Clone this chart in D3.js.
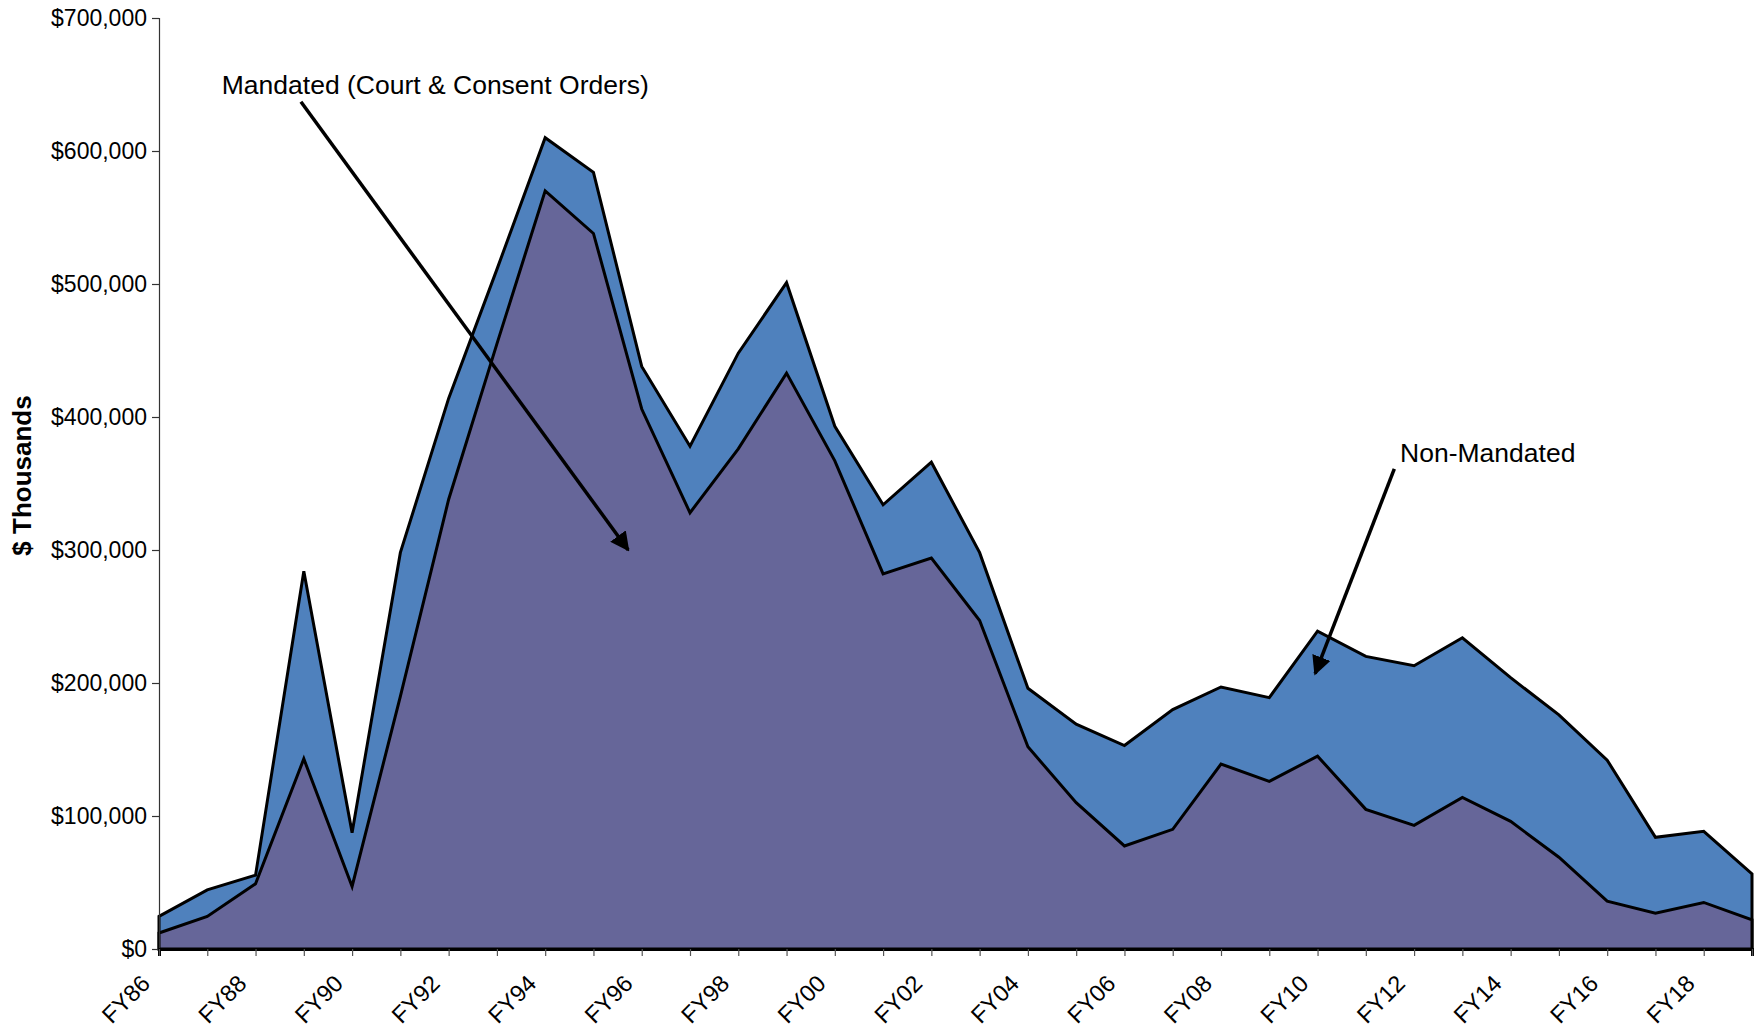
<!DOCTYPE html>
<html>
<head>
<meta charset="utf-8">
<script src="https://cdn.jsdelivr.net/npm/d3@7"></script>
<style>
  body { margin: 0; background: #fff; }
  text { font-family: "Liberation Sans", Arial, sans-serif; }
</style>
</head>
<body>
<svg id="chart" width="1759" height="1028"></svg>
<script>
// fiscal years FY86 .. FY19
const years = d3.range(1986, 2020);

// $ thousands
const mandated = [
  12000, 24500, 49000, 143000, 47000, 190000, 338000, 455000, 570000, 538000,
  406000, 328000, 376000, 433000, 367000, 282000, 294000, 247000, 152000, 110000,
  77500, 90000, 139000, 126000, 145000, 105000, 93000, 114000, 96000, 69000,
  36000, 27000, 35000, 22000
];
const total = [
  24500, 44500, 55500, 284000, 87500, 298000, 414000, 511000, 610000, 584000,
  438000, 378000, 448000, 501000, 393000, 334000, 366000, 298000, 196000, 169000,
  153000, 180000, 197000, 189000, 239000, 220000, 213000, 234000, 204000, 176000,
  142000, 84000, 88500, 56500
];
const nonMandated = total.map((t, i) => t - mandated[i]);

const yTicks = [0, 100000, 200000, 300000, 400000, 500000, 600000, 700000];

// annotations in data units: [year, value]
const notes = [
  { label: "Mandated (Court & Consent Orders)", text: [1987.3, 643000], from: [1988.94, 637000], to: [1995.72, 300000] },
  { label: "Non-Mandated", text: [2011.71, 366000], from: [2011.59, 361000], to: [2009.95, 207000] }
];

const svg = d3.select("#chart");
const margin = { left: 159, right: 7, top: 18, bottom: 79 };
const width = +svg.attr("width");
const height = +svg.attr("height");

const x = d3.scaleLinear()
  .domain([1986, 2019])
  .range([margin.left, width - margin.right]);
const y = d3.scaleLinear()
  .domain([0, 700000])
  .range([height - margin.bottom, margin.top]);

const rows = years.map((yr, i) => ({ year: yr, mandated: mandated[i], nonMandated: nonMandated[i] }));
const series = d3.stack().keys(["mandated", "nonMandated"])(rows);

const colors = { mandated: "#666699", nonMandated: "#4f81bd" };

// total (mandated + non-mandated) drawn first, mandated on top
const totalArea = d3.area()
  .x(d => x(d.data.year))
  .y0(y(0))
  .y1(d => y(d[1]));
const area = d3.area()
  .x(d => x(d.data.year))
  .y0(d => y(d[0]))
  .y1(d => y(d[1]));

svg.append("path")
  .datum(series[1])
  .attr("d", totalArea)
  .attr("fill", colors.nonMandated)
  .attr("stroke", "#000")
  .attr("stroke-width", 3);

svg.append("path")
  .datum(series[0])
  .attr("d", area)
  .attr("fill", colors.mandated)
  .attr("stroke", "#000")
  .attr("stroke-width", 3);

// y axis
const yAxis = svg.append("g")
  .attr("transform", `translate(${margin.left},0)`)
  .call(d3.axisLeft(y)
    .tickValues(yTicks)
    .tickSize(7)
    .tickPadding(5)
    .tickFormat(d => "$" + d3.format(",")(d)));
yAxis.select(".domain").attr("stroke", "#333").attr("stroke-width", 1.2);
yAxis.selectAll(".tick line").attr("stroke", "#333").attr("stroke-width", 1.2);
yAxis.selectAll("text")
  .attr("font-size", 23)
  .attr("fill", "#000")
  .style("font-family", "Liberation Sans, Arial, sans-serif");

// x axis
const xAxis = svg.append("g")
  .attr("transform", `translate(0,${y(0)})`)
  .call(d3.axisBottom(x)
    .tickValues(years)
    .tickSize(7)
    .tickFormat(d => (d % 2 === 0 ? "FY" + String(d).slice(2) : "")));
xAxis.select(".domain").attr("stroke", "#000").attr("stroke-width", 3);
xAxis.selectAll(".tick line").attr("stroke", "#555").attr("stroke-width", 1.2);
xAxis.selectAll("text")
  .attr("font-size", 23.5)
  .attr("fill", "#000")
  .style("font-family", "Liberation Sans, Arial, sans-serif")
  .attr("text-anchor", "end")
  .attr("x", 0)
  .attr("y", 0)
  .attr("dy", 0)
  .attr("transform", "translate(-8,36) rotate(-45)");

// y title
svg.append("text")
  .attr("transform", `translate(31,${(y(0) + y(700000)) / 2 - 8}) rotate(-90)`)
  .attr("text-anchor", "middle")
  .attr("font-size", 26)
  .attr("font-weight", "bold")
  .text("$ Thousands");

// arrowhead
svg.append("defs").append("marker")
  .attr("id", "arrow")
  .attr("viewBox", "0 0 10 10")
  .attr("refX", 9)
  .attr("refY", 5)
  .attr("markerWidth", 5.5)
  .attr("markerHeight", 5.5)
  .attr("markerUnits", "strokeWidth")
  .attr("orient", "auto")
  .append("path")
  .attr("d", "M0,0 L10,5 L0,10 Z")
  .attr("fill", "#000");

const noteG = svg.append("g");
noteG.selectAll("line")
  .data(notes)
  .join("line")
  .attr("x1", d => x(d.from[0]))
  .attr("y1", d => y(d.from[1]))
  .attr("x2", d => x(d.to[0]))
  .attr("y2", d => y(d.to[1]))
  .attr("stroke", "#000")
  .attr("stroke-width", 3.5)
  .attr("marker-end", "url(#arrow)");

noteG.selectAll("text")
  .data(notes)
  .join("text")
  .attr("x", d => x(d.text[0]))
  .attr("y", d => y(d.text[1]))
  .attr("font-size", 26.5)
  .text(d => d.label);
</script>
</body>
</html>
